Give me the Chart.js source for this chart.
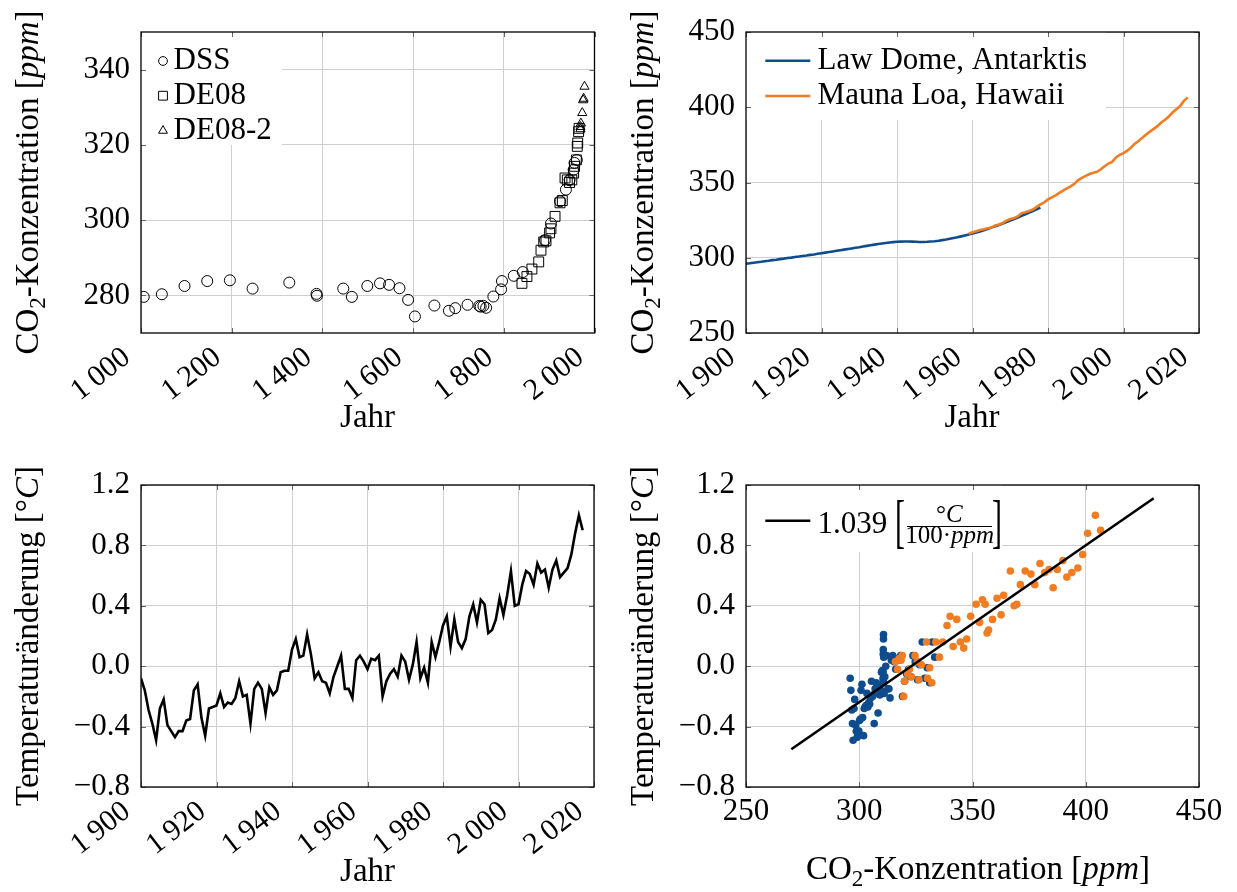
<!DOCTYPE html>
<html>
<head>
<meta charset="utf-8">
<script src="https://cdn.jsdelivr.net/npm/chart.js@4.4.1/dist/chart.umd.min.js"></script>
<style>
  html, body { margin: 0; padding: 0; background: #fff; }
  #wrap { position: relative; width: 1237px; height: 892px; }
  canvas { position: absolute; }
</style>
</head>
<body>
<div id="wrap">
  <canvas id="c1" width="618" height="446" style="left:0;top:0"></canvas>
  <canvas id="c2" width="619" height="446" style="left:618px;top:0"></canvas>
  <canvas id="c3" width="618" height="446" style="left:0;top:446px"></canvas>
  <canvas id="c4" width="619" height="446" style="left:618px;top:446px"></canvas>
</div>
<script>
// --- Eiskerne (oben links) ---
const dssYears = [1006, 1046, 1096, 1146, 1196, 1246, 1327, 1387, 1388, 1446, 1465, 1499, 1527, 1547, 1570, 1589, 1604, 1647, 1679, 1693, 1720, 1746, 1749, 1755, 1761, 1777, 1794, 1796, 1822, 1842, 1891, 1904, 1924, 1937, 1945, 1954, 1956, 1961];
const dssPpm = [279.6, 280.3, 282.5, 283.8, 284.0, 281.8, 283.4, 280.4, 279.9, 281.8, 279.6, 282.5, 283.2, 282.8, 281.9, 278.8, 274.4, 277.3, 275.9, 276.6, 277.5, 277.2, 277.0, 277.2, 276.7, 279.7, 281.6, 283.8, 285.2, 286.2, 294.7, 299.1, 305.0, 308.1, 310.7, 313.4, 315.2, 316.0];
const de08Years = [1840, 1851, 1862, 1877, 1882, 1888, 1893, 1901, 1904, 1913, 1924, 1929, 1935, 1940, 1945, 1950, 1954, 1956, 1960, 1962, 1963, 1965, 1966];
const de08Ppm = [283.2, 285.0, 287.0, 288.9, 292.0, 294.2, 294.5, 296.6, 297.7, 301.0, 304.6, 305.2, 311.2, 310.7, 310.0, 310.7, 312.5, 314.3, 316.0, 319.6, 320.5, 323.5, 324.4];
const de082Years = [1969, 1969, 1970, 1973, 1975, 1976, 1978];
const de082Ppm = [324.2, 324.8, 325.7, 328.5, 331.9, 332.3, 335.5];
const tlLegend = ['DSS', 'DE08', 'DE08-2'];

// --- Law Dome / Mauna Loa (oben rechts), Jahreswerte ab 1900 bzw. 1959 ---
const lawDomeStart = 1900;
const lawDomePpm = [
  296.0, 296.3, 296.7, 297.0, 297.3, 297.7, 298.0, 298.4, 298.7, 299.1,
  299.4, 299.8, 300.1, 300.5, 300.8, 301.2, 301.5, 301.9, 302.2, 302.6,
  303.0, 303.4, 303.8, 304.2, 304.6, 305.0, 305.4, 305.8, 306.2, 306.6,
  307.0, 307.5, 307.9, 308.3, 308.7, 309.1, 309.5, 309.8, 310.1, 310.4,
  310.6, 310.7, 310.8, 310.8, 310.7, 310.6, 310.5, 310.5, 310.6, 310.8,
  311.0, 311.3, 311.7, 312.1, 312.6, 313.1, 313.6, 314.2, 314.8, 315.4,
  316.1, 316.8, 317.5, 318.3, 319.1, 320.0, 320.9, 321.8, 322.7, 323.7,
  324.7, 325.7, 326.7, 327.8, 328.9, 330.0, 331.1, 332.2, 333.3
];
const maunaLoaStart = 1959;
const maunaLoaPpm = [
  315.97, 316.91, 317.64, 318.45, 318.99, 319.62, 320.04, 321.38, 322.16, 323.04,
  324.62, 325.68, 326.32, 327.45, 329.68, 330.18, 331.11, 332.04, 333.83, 335.40,
  336.84, 338.75, 340.11, 341.45, 343.05, 344.65, 346.12, 347.42, 349.19, 351.57,
  353.12, 354.39, 355.61, 356.45, 357.10, 358.83, 360.82, 362.61, 363.73, 366.70,
  368.38, 369.55, 371.14, 373.28, 375.80, 377.52, 379.80, 381.90, 383.79, 385.60,
  387.43, 389.90, 391.65, 393.85, 396.52, 398.65, 400.83, 404.24, 406.55
];
const trLegend = ['Law Dome, Antarktis', 'Mauna Loa, Hawaii'];

// --- Temperaturänderung (unten links), Jahreswerte ab 1900 ---
const tempStart = 1900;
const tempAnom = [
  -0.08, -0.16, -0.29, -0.38, -0.49, -0.28, -0.22, -0.39, -0.43, -0.47,
  -0.43, -0.43, -0.36, -0.35, -0.16, -0.12, -0.34, -0.46, -0.28, -0.27,
  -0.26, -0.18, -0.27, -0.24, -0.25, -0.21, -0.10, -0.20, -0.19, -0.38,
  -0.15, -0.11, -0.15, -0.31, -0.14, -0.19, -0.16, -0.04, -0.03, -0.03,
  0.11, 0.18, 0.06, 0.07, 0.21, 0.08, -0.08, -0.04, -0.10, -0.11,
  -0.18, -0.07, 0.00, 0.07, -0.15, -0.15, -0.21, 0.04, 0.07, 0.03,
  -0.02, 0.05, 0.04, 0.07, -0.20, -0.10, -0.05, -0.02, -0.07, 0.07,
  0.03, -0.09, 0.01, 0.16, -0.08, -0.01, -0.11, 0.16, 0.06, 0.16,
  0.27, 0.33, 0.13, 0.31, 0.16, 0.12, 0.18, 0.33, 0.41, 0.29,
  0.44, 0.41, 0.22, 0.24, 0.31, 0.45, 0.34, 0.47, 0.63, 0.40,
  0.41, 0.54, 0.63, 0.61, 0.54, 0.68, 0.62, 0.64, 0.52, 0.64,
  0.70, 0.59, 0.62, 0.65, 0.74, 0.88, 1.00, 0.90
];

// --- Regression (unten rechts) ---
const fitX = [270, 430];
const fitY = [-0.55, 1.112];
const fitLabel = '1.039';

// --- Achsenticks ---
const tlXTicks = [1000, 1200, 1400, 1600, 1800, 2000];
const tlYTicks = [280, 300, 320, 340];
const yearTicks = [1900, 1920, 1940, 1960, 1980, 2000, 2020];
const trYTicks = [250, 300, 350, 400, 450];
const tempTicks = [-0.8, -0.4, 0, 0.4, 0.8, 1.2];
const ppmTicks = [250, 300, 350, 400, 450];

const FONT = "'Liberation Serif', 'Times New Roman', serif";
const FS = 31;      // Tick- und Legendenschrift
const TS = 33;      // Achsentitel
const ROT = 38;
const GRID = '#cfcfcf';
const TICK = '#666';
const BLUE = '#0e4c8e';
const ORANGE = '#f07d23';

const co2Title = [{ t: 'CO' }, { t: '2', s: 1 }, { t: '-Konzentration [' }, { t: 'ppm', i: 1 }, { t: ']' }];
const tempTitle = [{ t: 'Temperaturänderung [°' }, { t: 'C', i: 1 }, { t: ']' }];
const yearTitle = [{ t: 'Jahr' }];

Chart.defaults.font.family = FONT;
Chart.defaults.font.size = FS;
Chart.defaults.color = '#000';

const pts = (xs, ys) => xs.map((x, i) => ({ x, y: ys[i] }));
const years = (start, vals) => vals.map((v, i) => start + i);

function fmtYear(v) {
  const s = String(v);
  return s.length > 3 ? s.slice(0, -3) + '\u2009' + s.slice(-3) : s;
}
function fmtTemp(v) {
  return (v < 0 ? '\u2212' : '') + Math.abs(v).toFixed(1);
}

function richText(ctx, parts, x, y, rot, size) {
  ctx.save();
  ctx.translate(x, y);
  ctx.rotate(rot);
  ctx.textBaseline = 'alphabetic';
  ctx.textAlign = 'left';
  ctx.fillStyle = '#000';
  const fontOf = p => (p.i ? 'italic ' : '') + (p.s ? Math.round(size * 0.7) : size) + 'px ' + FONT;
  let w = 0;
  parts.forEach(p => { ctx.font = fontOf(p); w += ctx.measureText(p.t).width; });
  let cx = -w / 2;
  parts.forEach(p => {
    ctx.font = fontOf(p);
    ctx.fillText(p.t, cx, p.s ? size * 0.22 : 0);
    cx += ctx.measureText(p.t).width;
  });
  ctx.restore();
}

function marker(ctx, shape, x, y, r) {
  ctx.beginPath();
  if (shape === 'circle') {
    ctx.arc(x, y, r, 0, Math.PI * 2);
  } else if (shape === 'rect') {
    ctx.rect(x - r, y - r, 2 * r, 2 * r);
  } else {
    ctx.moveTo(x, y - r * 1.1);
    ctx.lineTo(x + r, y + r * 0.65);
    ctx.lineTo(x - r, y + r * 0.65);
    ctx.closePath();
  }
  ctx.stroke();
}

function legendTL(ctx, a) {
  ctx.fillStyle = '#fff';
  ctx.fillRect(a.left, a.top, 141, 113);
  ctx.strokeStyle = '#000';
  ctx.lineWidth = 1;
  ctx.fillStyle = '#000';
  ctx.font = FS + 'px ' + FONT;
  ctx.textAlign = 'left';
  ctx.textBaseline = 'alphabetic';
  const shapes = ['circle', 'rect', 'triangle'];
  tlLegend.forEach((lbl, i) => {
    marker(ctx, shapes[i], a.left + 22, a.top + 29 + i * 34.7, 4.4);
    ctx.fillText(lbl, a.left + 32.6, a.top + 37.3 + i * 34.7);
  });
}

function legendTR(ctx, a) {
  ctx.fillStyle = '#fff';
  ctx.fillRect(a.left, a.top, 360, 88);
  ctx.font = FS + 'px ' + FONT;
  ctx.textAlign = 'left';
  ctx.textBaseline = 'alphabetic';
  [BLUE, ORANGE].forEach((c, i) => {
    ctx.strokeStyle = c;
    ctx.lineWidth = 2.6;
    ctx.beginPath();
    ctx.moveTo(a.left + 19.3, a.top + 28.7 + i * 35.3);
    ctx.lineTo(a.left + 64.3, a.top + 28.7 + i * 35.3);
    ctx.stroke();
    ctx.fillStyle = '#000';
    ctx.fillText(trLegend[i], a.left + 71.6, a.top + 37.3 + i * 34.7);
  });
}

function bracket(ctx, ch, x, y) {
  ctx.save();
  ctx.translate(x, y);
  ctx.scale(1, 2.0);
  ctx.font = '30px ' + FONT;
  ctx.textAlign = 'left';
  ctx.textBaseline = 'alphabetic';
  ctx.fillStyle = '#000';
  ctx.fillText(ch, 0, 0);
  ctx.restore();
}

function legendBR(ctx, a) {
  ctx.fillStyle = '#fff';
  ctx.fillRect(a.left, a.top, 256, 67);
  ctx.strokeStyle = '#000';
  ctx.lineWidth = 2.6;
  ctx.beginPath();
  ctx.moveTo(a.left + 19.3, a.top + 35.7);
  ctx.lineTo(a.left + 64.3, a.top + 35.7);
  ctx.stroke();
  ctx.fillStyle = '#000';
  ctx.font = FS + 'px ' + FONT;
  ctx.textAlign = 'left';
  ctx.textBaseline = 'alphabetic';
  ctx.fillText(fitLabel, a.left + 71.6, a.top + 48.3);
  const dx = a.left + 4;
  bracket(ctx, '[', dx + 145, a.top + 56);
  bracket(ctx, ']', dx + 242, a.top + 56);
  richText(ctx, [{ t: '°' }, { t: 'C', i: 1 }], dx + 199.3, a.top + 36.7, 0, 25);
  richText(ctx, [{ t: '100·' }, { t: 'ppm', i: 1 }], dx + 199.6, a.top + 58.3, 0, 25);
  ctx.lineWidth = 1;
  ctx.beginPath();
  ctx.moveTo(dx + 157, a.top + 41.5);
  ctx.lineTo(dx + 242, a.top + 41.5);
  ctx.stroke();
}

function innerTicks(ctx, a, x, y) {
  ctx.strokeStyle = TICK;
  ctx.lineWidth = 1;
  ctx.beginPath();
  x.ticks.forEach(t => {
    const p = Math.round(x.getPixelForValue(t.value)) + 0.5;
    ctx.moveTo(p, a.bottom); ctx.lineTo(p, a.bottom - 5);
    ctx.moveTo(p, a.top); ctx.lineTo(p, a.top + 5);
  });
  y.ticks.forEach(t => {
    const p = Math.round(y.getPixelForValue(t.value)) + 0.5;
    ctx.moveTo(a.left, p); ctx.lineTo(a.left + 5, p);
    ctx.moveTo(a.right, p); ctx.lineTo(a.right - 5, p);
  });
  ctx.stroke();
}

function decor(cfg) {
  return {
    id: 'decor',
    afterDatasetsDraw(chart) {
      const { ctx, chartArea: a, scales } = chart;
      ctx.save();
      cfg.legend(ctx, a);
      innerTicks(ctx, a, scales.x, scales.y);
      ctx.strokeStyle = '#000';
      ctx.lineWidth = 1.3;
      ctx.strokeRect(a.left, a.top, a.right - a.left, a.bottom - a.top);
      ctx.restore();
    },
    afterDraw(chart) {
      const ctx = chart.ctx;
      richText(ctx, cfg.yTitle, cfg.yPos[0], cfg.yPos[1], -Math.PI / 2, TS);
      richText(ctx, cfg.xTitle, cfg.xPos[0], cfg.xPos[1], 0, TS);
    }
  };
}

function xAxis(min, max, ticks, rotated, fmt, height) {
  return {
    type: 'linear', min, max,
    afterBuildTicks: s => { s.ticks = ticks.map(v => ({ value: v })); },
    afterFit: s => {
      s.height = height;
      // Plotrahmen nicht wegen überstehender Beschriftung verkleinern
      s.paddingLeft = 0;
      s.paddingRight = 0;
    },
    grid: { color: GRID, drawTicks: false },
    border: { display: false },
    ticks: {
      autoSkip: false,
      minRotation: rotated ? ROT : 0,
      maxRotation: rotated ? ROT : 0,
      padding: rotated ? 7 : 6,
      labelOffset: rotated ? -14 : 0,
      font: { size: rotated ? 30 : FS },
      callback: fmt
    }
  };
}

function yAxis(min, max, ticks, fmt, width) {
  return {
    type: 'linear', min, max,
    afterBuildTicks: s => { s.ticks = ticks.map(v => ({ value: v })); },
    afterFit: s => { s.width = width; },
    grid: { color: GRID, drawTicks: false },
    border: { display: false },
    ticks: { padding: 11, font: { size: FS }, callback: fmt }
  };
}

function baseOptions(pad, x, y) {
  return {
    responsive: false,
    animation: false,
    events: [],
    layout: { padding: { top: pad.top, right: pad.right, left: 0, bottom: 0 } },
    plugins: { legend: { display: false }, tooltip: { enabled: false } },
    scales: { x, y }
  };
}

const openMarker = (style, r) => ({
  pointStyle: style, pointRadius: r, pointBorderWidth: 1,
  pointBorderColor: '#000', pointBackgroundColor: 'rgba(0,0,0,0)', showLine: false
});

// Oben links: Eiskerne
new Chart(document.getElementById('c1'), {
  type: 'scatter',
  data: {
    datasets: [
      Object.assign({ data: pts(dssYears, dssPpm) }, openMarker('circle', 5.5)),
      Object.assign({ data: pts(de08Years, de08Ppm) }, openMarker('rect', 7)),
      Object.assign({ data: pts(de082Years, de082Ppm) }, openMarker('triangle', 5.3))
    ]
  },
  options: baseOptions({ top: 32, right: 23.5 },
    xAxis(1000, 2000, tlXTicks, true, fmtYear, 113),
    yAxis(270, 350, tlYTicks, v => String(v), 141)),
  plugins: [decor({ legend: legendTL, yTitle: co2Title, yPos: [37.5, 182.5], xTitle: yearTitle, xPos: [367.6, 427] })]
});

// Oben rechts: Law Dome und Mauna Loa
new Chart(document.getElementById('c2'), {
  type: 'scatter',
  data: {
    datasets: [
      { data: pts(years(lawDomeStart, lawDomePpm), lawDomePpm), showLine: true, borderColor: BLUE, borderWidth: 2.6, pointRadius: 0, order: 1 },
      { data: pts(years(maunaLoaStart, maunaLoaPpm), maunaLoaPpm), showLine: true, borderColor: ORANGE, borderWidth: 2.6, pointRadius: 0, order: 0 }
    ]
  },
  options: baseOptions({ top: 32, right: 38 },
    xAxis(1900, 2020, yearTicks, true, fmtYear, 113),
    yAxis(250, 450, trYTicks, v => String(v), 128)),
  plugins: [decor({ legend: legendTR, yTitle: co2Title, yPos: [35, 182.5], xTitle: yearTitle, xPos: [354, 427] })]
});

// Unten links: Temperaturänderung
new Chart(document.getElementById('c3'), {
  type: 'scatter',
  data: {
    datasets: [
      { data: pts(years(tempStart, tempAnom), tempAnom), showLine: true, borderColor: '#000', borderWidth: 2.6, pointRadius: 0 }
    ]
  },
  options: baseOptions({ top: 39, right: 24 },
    xAxis(1900, 2020, yearTicks, true, fmtYear, 105),
    yAxis(-0.8, 1.2, tempTicks, fmtTemp, 141)),
  plugins: [decor({ legend: () => {}, yTitle: tempTitle, yPos: [37.5, 190], xTitle: yearTitle, xPos: [367.6, 435] })]
});

// Unten rechts: Temperatur gegen CO2
const tempOf = yr => tempAnom[yr - tempStart];
const blueDots = lawDomePpm.map((v, i) => ({ x: v, y: tempOf(lawDomeStart + i) }));
const orangeDots = maunaLoaPpm.map((v, i) => ({ x: v, y: tempOf(maunaLoaStart + i) }));

new Chart(document.getElementById('c4'), {
  type: 'scatter',
  data: {
    datasets: [
      { data: pts(fitX, fitY), showLine: true, borderColor: '#000', borderWidth: 2.6, pointRadius: 0, order: 0 },
      { data: orangeDots, pointRadius: 3.8, pointBorderWidth: 0, pointBackgroundColor: ORANGE, order: 1 },
      { data: blueDots, pointRadius: 3.8, pointBorderWidth: 0, pointBackgroundColor: BLUE, order: 2 }
    ]
  },
  options: baseOptions({ top: 39, right: 38 },
    xAxis(250, 450, ppmTicks, false, v => String(v), 105),
    yAxis(-0.8, 1.2, tempTicks, fmtTemp, 128)),
  plugins: [decor({ legend: legendBR, yTitle: tempTitle, yPos: [35, 190], xTitle: co2Title, xPos: [360, 433] })]
});
</script>
</body>
</html>
